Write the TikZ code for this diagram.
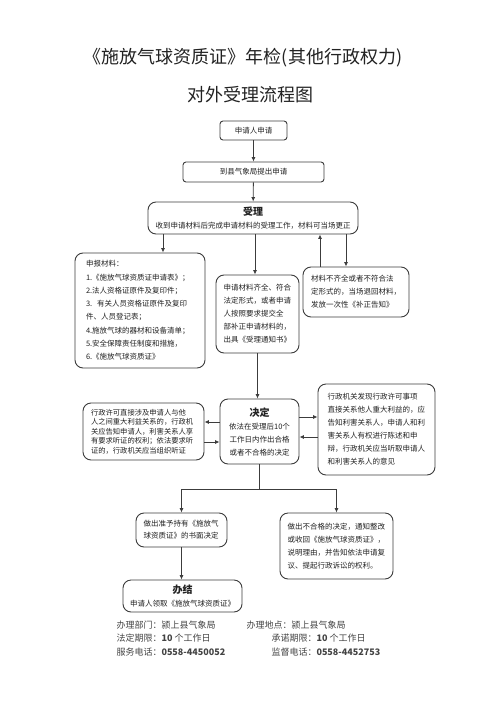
\documentclass[tikz,border=0pt]{standalone}
\usepackage{fontspec}
\setmainfont{Noto Sans CJK SC}
\usetikzlibrary{arrows.meta}
\definecolor{ink}{HTML}{222222}
\definecolor{frame}{HTML}{3C3C3C}

\begin{document}
\begin{tikzpicture}[x=1pt,y=-1pt,
  font=\fontsize{7.5}{13}\selectfont, text=ink,
  box/.style={draw=frame,line width=0.9pt,rounded corners=8pt,fill=white,
    inner sep=0pt,align=left},
  tbox/.style={box,rounded corners=3pt,align=center},
  arr/.style={-{Latex[length=4.5pt,width=4pt]},draw=frame,line width=0.8pt},
  link/.style={draw=frame,line width=0.8pt},
  head/.style={font=\fontsize{11}{13}\selectfont\bfseries},
  foot/.style={anchor=base west,font=\fontsize{9}{11}\selectfont,text=ink!85}
]
  \useasboundingbox (0,0) rectangle (500,707);

  % title
  \node[font=\fontsize{18}{20}\selectfont] (title1) at (243,58)
    {《施放气球资质证》年检(其他行政权力)};
  \node[font=\fontsize{18}{20}\selectfont] (title2) at (250,95) {对外受理流程图};

  % application and acceptance
  \node[tbox,minimum width=67pt,minimum height=19pt] (apply) at (253.5,130.5) {申请人申请};
  \node[tbox,minimum width=141pt,minimum height=20pt] (submit) at (253.5,172) {到县气象局提出申请};
  \node[box,minimum width=210pt,minimum height=32pt,align=center] (accept) at (253,218)
    {{\fontsize{10}{13}\selectfont\bfseries 受理}\\收到申请材料后完成申请材料的受理工作，材料可当场更正};

  \node[box,minimum width=130pt,minimum height=115pt,text width=108pt,
    font=\fontsize{7.5}{13.3}\selectfont] (materials) at (140,310.5)
    {申报材料：\\1.《施放气球资质证申请表》；\\2.法人资格证原件及复印件；\\
     3.\ \ 有关人员资格证原件及复印\\件、人员登记表；\\4.施放气球的器材和设备清单；\\
     5.安全保障责任制度和措施，\\6.《施放气球资质证》};
  \node[box,minimum width=83pt,minimum height=78pt,text width=68pt] (complete) at (257.5,314)
    {申请材料齐全、符合\\法定形式，或者申请\\人按照要求提交全\\部补正申请材料的，\\出具《受理通知书》};
  \node[box,minimum width=106pt,minimum height=50pt,text width=90pt] (incomplete) at (356,292)
    {材料不齐全或者不符合法\\定形式的，当场退回材料，\\发放一次性《补正告知》};

  % decision
  \node[box,minimum width=79pt,minimum height=65pt,align=center] (decide) at (259.5,431.5)
    {{\fontsize{10}{13}\selectfont\bfseries 决定}\\依法在受理后10个\\工作日内作出合格\\或者不合格的决定};
  \node[box,minimum width=121pt,minimum height=57pt,text width=105pt,
    font=\fontsize{7.3}{9.5}\selectfont] (hearing) at (143.5,431.5)
    {行政许可直接涉及申请人与他\\人之间重大利益关系的，行政机\\关应告知申请人，利害关系人享\\
     有要求听证的权利；依法要求听\\证的，行政机关应当组织听证};
  \node[box,minimum width=117pt,minimum height=91pt,text width=98pt] (statement) at (376.5,429.5)
    {行政机关发现行政许可事项\\直接关系他人重大利益的，应\\告知利害关系人，申请人和利\\
     害关系人有权进行陈述和申\\辩，行政机关应当听取申请人\\和利害关系人的意见};

  % outcome
  \node[box,minimum width=91pt,minimum height=34pt,text width=76pt,
    font=\fontsize{7.5}{12}\selectfont] (grant) at (181.5,530)
    {做出准予持有《施放气\\球资质证》的书面决定};
  \node[box,minimum width=113pt,minimum height=66pt,text width=98pt] (reject) at (336.5,546)
    {做出不合格的决定，通知整改\\或收回《施放气球资质证》，\\说明理由，并告知依法申请复\\议、提起行政诉讼的权利。};
  \node[box,minimum width=119pt,minimum height=32pt,align=center] (finish) at (182.5,596)
    {{\fontsize{10}{13}\selectfont\bfseries 办结}\\申请人领取《施放气球资质证》};

  % connectors
  \coordinate (toMat) at (163,240);
  \coordinate (toComp) at (255,240);
  \coordinate (back) at (320,240);
  \coordinate (toInc) at (346,240);
  \coordinate (dl1) at (0,422);
  \coordinate (dl2) at (0,442);
  \coordinate (dr1) at (0,417);
  \coordinate (dr2) at (0,437);
  \coordinate (split) at (259,489);

  \draw[arr] (apply) -- (submit);
  \draw[arr] (submit) -- (accept);
  \draw[arr] (accept.south -| toMat) -- (materials.north -| toMat);
  \draw[arr] (accept.south -| toComp) -- (complete.north -| toComp);
  \draw[arr] (incomplete.north -| back) -- (accept.south -| back);
  \draw[arr] (accept.south -| toInc) -- (incomplete.north -| toInc);
  \draw[arr] (complete.south) -- (complete.south |- decide.north);
  \draw[arr] (decide.west |- dl1) -- (hearing.east |- dl1);
  \draw[arr] (hearing.east |- dl2) -- (decide.west |- dl2);
  \draw[arr] (decide.east |- dr1) -- (statement.west |- dr1);
  \draw[arr] (statement.west |- dr2) -- (decide.east |- dr2);
  \draw[link] (decide.south) -- (decide.south |- split);
  \draw[arr] (decide.south |- split) -| (grant.north);
  \draw[arr] (decide.south |- split) -| (reject.north);
  \draw[arr] (grant.south) -- (grant.south |- finish.north);

  % office details
  \node[foot] (dept) at (113,628) {办理部门：颍上县气象局};
  \node[foot] (place) at (243,628) {办理地点：颍上县气象局};
  \node[foot] (legal) at (113,641) {法定期限：\textbf{10} 个工作日};
  \node[foot] (promise) at (268,641) {承诺期限：\textbf{10} 个工作日};
  \node[foot] (service) at (113,655) {服务电话：\textbf{0558-4450052}};
  \node[foot] (monitor) at (268,655) {监督电话：\textbf{0558-4452753}};
\end{tikzpicture}
\end{document}
